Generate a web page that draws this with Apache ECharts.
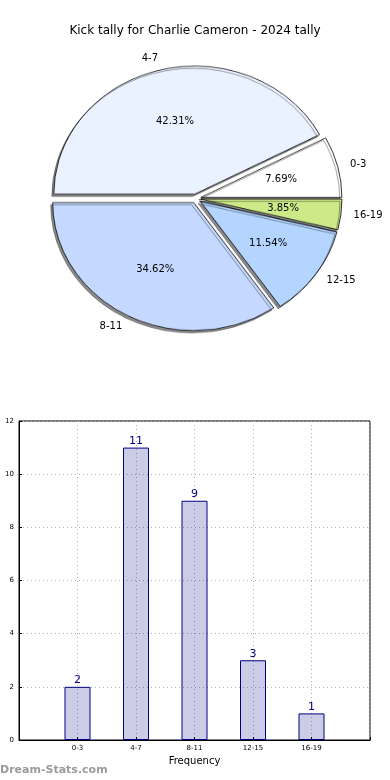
<!DOCTYPE html>
<html>
<head>
<meta charset="utf-8">
<script src="https://cdn.jsdelivr.net/npm/echarts@6/dist/echarts.min.js"></script>
<style>
html,body{margin:0;padding:0;background:#fff;}
.layer{position:absolute;left:0;top:0;width:390px;}
</style>
</head>
<body>
<div id="main" class="layer" style="height:780px"></div>
<div id="pie" class="layer" style="height:400px;transform-origin:0 198.5px;transform:scaleY(0.908)"></div>
<div id="lab" class="layer" style="height:400px"></div>
<script>
// ---- data ----
const chartTitle = 'Kick tally for Charlie Cameron - 2024 tally';
const categories = ['0-3', '4-7', '8-11', '12-15', '16-19'];
const counts = [2, 11, 9, 3, 1];
const yTicks = [0, 2, 4, 6, 8, 10, 12];
const xAxisName = 'Frequency';
const yAxisName = 'Number of Games';
const watermark = 'Dream-Stats.com';
const pieColors = ['#ffffff', '#eaf1ff', '#c5d8ff', '#b3d5ff', '#ccea88'];

// ---- layout constants ----
const FONT = 'DejaVu Sans';
const PIE_CX = 196, PIE_CY = 198.5, PIE_R = 141, SQUASH = 0.908, EXPLODE = 5;
const total = counts.reduce((a, b) => a + b, 0);

function pieData(withColor) {
  return categories.map((c, i) => ({
    name: c, value: counts[i], selected: withColor,
    itemStyle: withColor ? { color: pieColors[i] } : { color: 'rgba(0,0,0,0)', borderWidth: 0 }
  }));
}

// ---- main (bar) chart ----
const main = echarts.init(document.getElementById('main'), null, { renderer: 'canvas' });
main.setOption({
  backgroundColor: '#fff',
  animation: false,
  textStyle: { fontFamily: FONT },
  title: {
    text: chartTitle, left: 'center', top: 25, padding: 0,
    textStyle: { fontSize: 12, fontWeight: 'normal', color: '#000', fontFamily: FONT }
  },
  grid: {
    left: 19, right: 20, top: 421, bottom: 40, show: true, borderColor: '#000', borderWidth: 1,
    containLabel: false, outerBoundsMode: 'none'
  },
  xAxis: {
    type: 'value', min: 0, max: categories.length + 1, interval: 1,
    axisLine: { show: true, lineStyle: { color: '#000', width: 1 } },
    axisTick: { show: true, inside: true, length: 3, lineStyle: { color: '#000' } },
    axisLabel: {
      fontSize: 7, color: '#000', margin: 5, fontFamily: FONT,
      formatter: v => categories[v - 1] || ''
    },
    splitLine: { show: true, lineStyle: { type: [1, 3], color: '#b0b0b0', width: 1 } },
    name: xAxisName, nameLocation: 'middle', nameGap: 16, nameMoveOverlap: false,
    nameTextStyle: { fontSize: 10, color: '#000', fontFamily: FONT }
  },
  yAxis: {
    type: 'value', min: yTicks[0], max: yTicks[yTicks.length - 1], interval: yTicks[1] - yTicks[0],
    axisLine: { show: true, lineStyle: { color: '#000', width: 1 } },
    axisTick: { show: true, inside: true, length: 3, lineStyle: { color: '#000' } },
    axisLabel: { fontSize: 7, color: '#000', margin: 5, fontFamily: FONT },
    splitLine: { show: true, lineStyle: { type: [1, 3], color: '#b0b0b0', width: 1 } },
    name: yAxisName, nameLocation: 'middle', nameGap: 20, nameRotate: 90, nameMoveOverlap: false,
    nameTextStyle: { fontSize: 10, color: '#000', fontFamily: FONT }
  },
  graphic: [{
    type: 'text', left: 0, top: 765,
    style: { text: watermark, fill: '#9a9a9a', font: 'bold 11px "DejaVu Sans"' }
  }],
  series: [{
    type: 'bar',
    data: counts.map((v, i) => [i + 1, v]),
    barWidth: 26,
    itemStyle: { color: 'rgba(0,0,128,0.2)', borderColor: '#000080', borderWidth: 1 },
    label: { show: true, position: 'top', distance: 1, color: '#000080', fontSize: 11, fontFamily: FONT }
  }]
});

// ---- pie shapes (squashed vertically by CSS) ----
const pie = echarts.init(document.getElementById('pie'), null, { renderer: 'canvas' });
pie.setOption({
  animation: false,
  series: [{
    type: 'pie', center: [PIE_CX, PIE_CY], radius: PIE_R,
    startAngle: 0, clockwise: false,
    selectedMode: 'multiple', selectedOffset: EXPLODE,
    silent: true, avoidLabelOverlap: false,
    label: { show: false }, labelLine: { show: false },
    emphasis: { scale: false },
    itemStyle: {
      borderColor: '#000', borderWidth: 0.8,
      shadowColor: 'rgba(0,0,0,0.45)', shadowBlur: 0, shadowOffsetX: -2, shadowOffsetY: 2.5
    },
    data: pieData(true)
  }]
});

// ---- pie labels: unsquashed text; anchor pushed out by the explode offset, then squashed toward the centre ----
function squash(p) {
  const r = p.labelRect;
  const ax = p.align === 'right' ? r.x + r.width : (p.align === 'center' ? r.x + r.width / 2 : r.x);
  const midY = r.y + r.height / 2;
  const vx = ax - PIE_CX, vy = midY - PIE_CY;
  const len = Math.sqrt(vx * vx + vy * vy) || 1;
  const nx = ax + vx / len * EXPLODE;
  const ny = PIE_CY + (vy + vy / len * EXPLODE) * SQUASH;
  const ay = p.verticalAlign === 'top' ? ny - r.height / 2 :
             (p.verticalAlign === 'bottom' ? ny + r.height / 2 : ny);
  return { x: nx, y: ay };
}
const lab = echarts.init(document.getElementById('lab'), null, { renderer: 'canvas' });
const common = {
  type: 'pie', center: [PIE_CX, PIE_CY], startAngle: 0, clockwise: false,
  silent: true, avoidLabelOverlap: false,
  emphasis: { scale: false }, labelLayout: squash
};
lab.setOption({
  animation: false,
  series: [
    Object.assign({}, common, {
      radius: PIE_R,
      label: { show: true, position: 'outside', formatter: '{b}', fontSize: 10, color: '#000', fontFamily: FONT, distanceToLabelLine: 0 },
      labelLine: { show: false, length: PIE_R * 0.09, length2: 0 },
      data: pieData(false)
    }),
    Object.assign({}, common, {
      radius: PIE_R * 1.13,
      label: {
        show: true, position: 'inside', fontSize: 10, color: '#000', fontFamily: FONT,
        formatter: p => (p.value / total * 100).toFixed(2) + '%'
      },
      labelLine: { show: false },
      data: pieData(false)
    })
  ]
});
</script>
</body>
</html>
